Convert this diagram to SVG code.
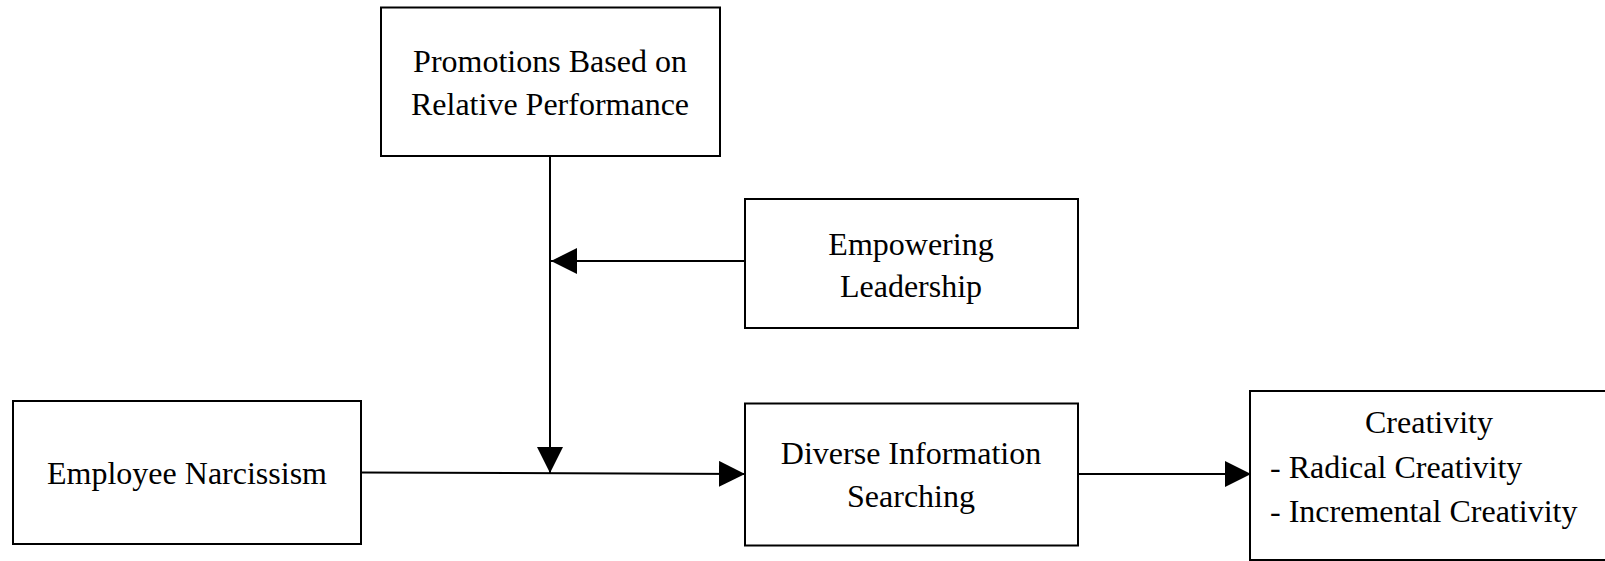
<svg xmlns="http://www.w3.org/2000/svg" width="1605" height="561" viewBox="0 0 1605 561">
  <style>
    .box { fill: #ffffff; stroke: #000000; stroke-width: 2; }
    .lbl { font-family: "Liberation Serif", "Times New Roman", serif; font-size: 32px; fill: #000000; }
    .mid { text-anchor: middle; }
    .edge { fill: none; stroke: #000000; stroke-width: 2; }
  </style>
  <defs>
    <marker id="head" markerUnits="userSpaceOnUse" markerWidth="27" markerHeight="27" refX="26" refY="13" orient="auto">
      <path d="M0,0 L26,13 L0,26 Z" fill="#000000"/>
    </marker>
  </defs>
  <rect width="1605" height="561" fill="#ffffff"/>

  <g id="connectors">
    <!-- promotions moderates the main path -->
    <line class="edge" x1="550" y1="156" x2="550" y2="473" marker-end="url(#head)"/>
    <!-- leadership moderates the moderator -->
    <line class="edge" x1="745" y1="261" x2="551" y2="261" marker-end="url(#head)"/>
    <!-- narcissism to information searching -->
    <line class="edge" x1="361" y1="472.5" x2="745" y2="474" marker-end="url(#head)"/>
    <!-- information searching to creativity -->
    <line class="edge" x1="1078" y1="474" x2="1251" y2="474" marker-end="url(#head)"/>
  </g>

  <g id="promotions">
    <rect class="box" x="381" y="7.5" width="339" height="148.5"/>
    <text class="lbl mid" x="550" y="72">Promotions Based on</text>
    <text class="lbl mid" x="550" y="115">Relative Performance</text>
  </g>

  <g id="empowering">
    <rect class="box" x="745" y="199" width="333" height="129"/>
    <text class="lbl mid" x="911" y="254.5">Empowering</text>
    <text class="lbl mid" x="911" y="297">Leadership</text>
  </g>

  <g id="narcissism">
    <rect class="box" x="13" y="401" width="348" height="143"/>
    <text class="lbl mid" x="187" y="484">Employee Narcissism</text>
  </g>

  <g id="searching">
    <rect class="box" x="745" y="403.5" width="333" height="142"/>
    <text class="lbl mid" x="911" y="464">Diverse Information</text>
    <text class="lbl mid" x="911" y="507">Searching</text>
  </g>

  <g id="creativity">
    <rect class="box" x="1250" y="391" width="370" height="169"/>
    <text class="lbl mid" x="1429" y="433">Creativity</text>
    <text class="lbl" x="1270" y="478">- Radical Creativity</text>
    <text class="lbl" x="1270" y="521.5">- Incremental Creativity</text>
  </g>
</svg>
